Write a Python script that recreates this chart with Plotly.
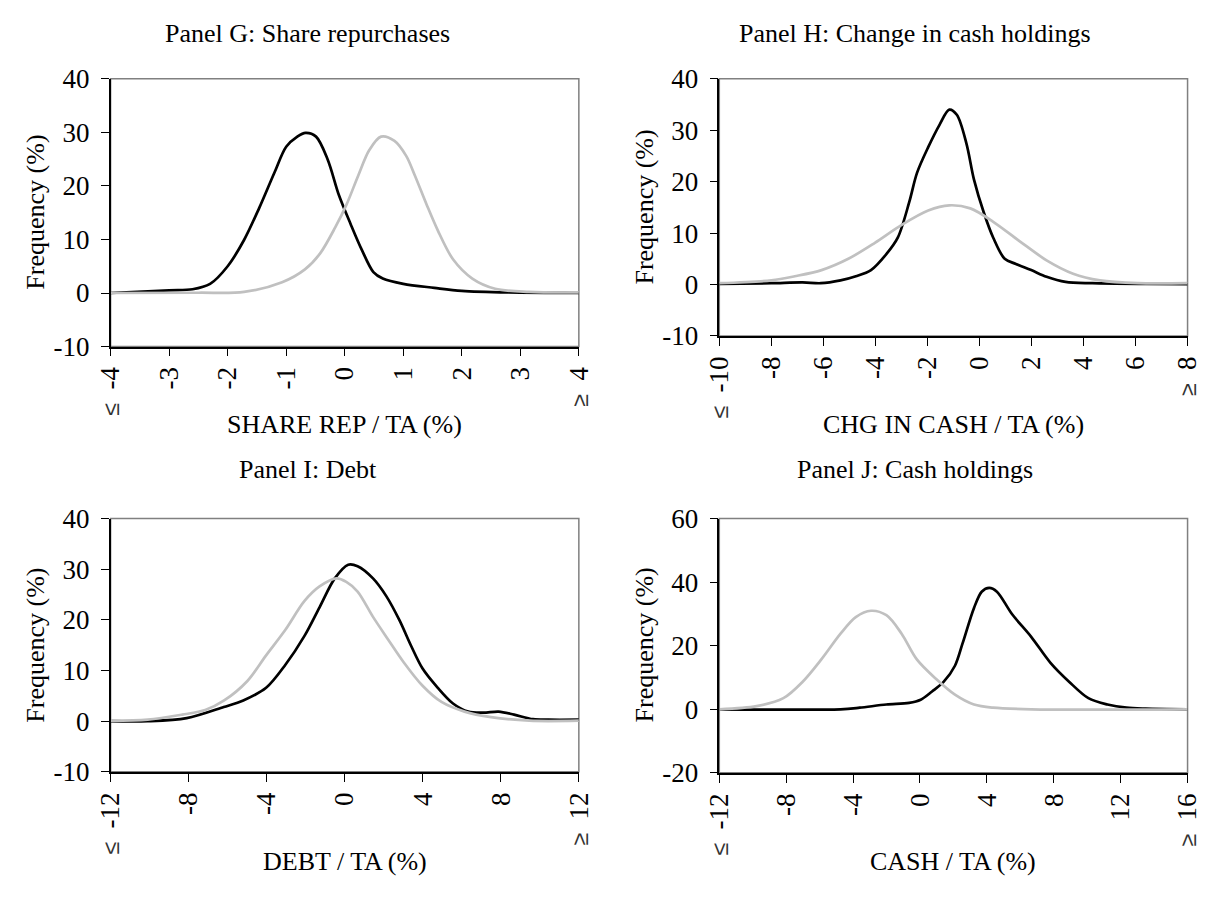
import plotly.graph_objects as go

FONT = "Liberation Serif"
BLACK = "#000000"
GRAY = "#c0c0c0"
BORDER = "#808080"
W, H = 1225, 899

# ---------------- data ----------------
# Panel G: Share repurchases
g_black_x = [-4, -3.0, -2.6, -2.3, -2.0, -1.72, -1.46, -1.2, -1.0, -0.81, -0.67, -0.49, -0.29, -0.1, 0.1, 0.29, 0.49, 0.65, 1.0, 1.53, 2.0, 2.8, 4]
g_black_y = [0, 0.5, 0.7, 1.7, 5.0, 9.9, 15.9, 22.5, 27.3, 29.2, 29.9, 29.2, 24.9, 18.3, 12.9, 8.1, 3.9, 2.7, 1.7, 0.96, 0.4, 0.1, 0]
g_gray_x = [-4, -2.5, -1.72, -1.07, -0.68, -0.42, -0.16, 0.03, 0.23, 0.42, 0.62, 0.85, 1.05, 1.2, 1.4, 1.59, 1.85, 2.18, 2.57, 3.15, 4]
g_gray_y = [0, 0.05, 0.2, 2.0, 4.4, 7.4, 12.3, 16.5, 21.9, 26.7, 29.2, 28.4, 25.6, 21.9, 16.5, 11.7, 6.3, 2.7, 0.8, 0.2, 0.1]

# Panel H: Change in cash holdings
h_black_x = [-10, -8.0, -6.8, -6.1, -5.34, -4.75, -4.17, -3.58, -3.14, -2.7, -2.4, -1.97, -1.53, -1.16, -0.87, -0.5, -0.21, 0.16, 0.53, 0.97, 1.4, 1.99, 2.58, 3.31, 4.34, 6.4, 8]
h_black_y = [0.1, 0.25, 0.4, 0.25, 0.8, 1.6, 2.8, 5.9, 9.1, 16.0, 21.7, 26.7, 31.1, 34.0, 33.0, 27.4, 20.4, 14.1, 9.1, 5.0, 4.0, 2.8, 1.5, 0.5, 0.25, 0.1, 0.05]
h_gray_x = [-10, -8.0, -7.1, -6.07, -5.04, -4.02, -2.99, -1.97, -1.16, -0.35, 0.53, 1.55, 2.58, 3.6, 4.63, 6.09, 8]
h_gray_y = [0.25, 0.8, 1.6, 2.8, 5.0, 8.1, 11.6, 14.4, 15.4, 14.8, 12.2, 8.4, 4.7, 2.1, 0.8, 0.25, 0.25]

# Panel I: Debt
i_black_x = [-12, -10.1, -8.1, -6.2, -5.2, -4.03, -3.05, -2.07, -1.29, -0.51, 0.18, 0.66, 1.45, 2.13, 2.81, 3.4, 3.99, 4.77, 5.55, 6.33, 7.11, 7.89, 8.68, 9.65, 10.44, 12]
i_black_y = [0, 0, 0.6, 2.8, 4.1, 6.6, 11.1, 16.8, 22.5, 28.2, 30.9, 30.6, 28.2, 24.7, 19.9, 14.9, 10.4, 6.6, 3.5, 1.9, 1.7, 1.9, 1.3, 0.4, 0.3, 0.3]
i_gray_x = [-12, -10.1, -8.33, -7.15, -6.18, -5.0, -4.03, -3.05, -2.07, -1.29, -0.41, 0.08, 0.66, 1.45, 2.23, 3.01, 3.99, 4.96, 6.14, 7.5, 9.46, 12]
i_gray_y = [0.1, 0.3, 1.3, 2.2, 4.1, 7.9, 13.0, 18.0, 23.7, 26.6, 28.2, 27.5, 25.6, 20.6, 16.1, 11.7, 7.0, 3.8, 1.9, 0.8, 0.1, 0.1]

# Panel J: Cash holdings
j_black_x = [-12, -4.75, -3.61, -2.01, -0.65, 0.04, 0.72, 1.41, 2.09, 2.55, 3.23, 3.69, 4.14, 4.6, 5.51, 6.65, 7.79, 8.93, 10.07, 11.21, 12.35, 13.49, 16]
j_black_y = [0, 0, 0.5, 1.5, 2.0, 3.0, 5.6, 8.6, 13.7, 20.8, 31.9, 37.0, 38.2, 37.0, 29.9, 22.8, 14.7, 8.6, 3.5, 1.5, 0.5, 0.2, 0]
j_gray_x = [-12, -9.77, -8.17, -7.03, -5.9, -4.75, -3.84, -2.93, -2.01, -1.1, -0.19, 0.95, 2.09, 3.23, 4.37, 6.65, 16]
j_gray_y = [0, 1.0, 3.5, 8.6, 15.7, 23.8, 29.0, 31.0, 29.6, 23.8, 15.7, 9.6, 4.6, 1.5, 0.5, 0, 0]

# tick values
g_xticks = [-4, -3, -2, -1, 0, 1, 2, 3, 4]
h_xticks = [-10, -8, -6, -4, -2, 0, 2, 4, 6, 8]
i_xticks = [-12, -8, -4, 0, 4, 8, 12]
j_xticks = [-12, -8, -4, 0, 4, 8, 12, 16]
ghi_yticks = [-10, 0, 10, 20, 30, 40]
j_yticks = [-20, 0, 20, 40, 60]

panel_titles = ["Panel G: Share repurchases", "Panel H: Change in cash holdings",
                "Panel I: Debt", "Panel J: Cash holdings"]
x_titles = ["SHARE REP / TA (%)", "CHG IN CASH / TA (%)", "DEBT / TA (%)", "CASH / TA (%)"]
y_title = "Frequency (%)"

TICK_SIZE = 27
TITLE_SIZE = 26

# ---------------- layout helpers ----------------
SYM = "<span style='font-family:Liberation Sans;font-size:23px;fill:#333333'>{}</span>"


def x_labels(vals):
    out = []
    for k, v in enumerate(vals):
        if k == 0:
            out.append(SYM.format("≤") + "\u00a0 " + str(v))
        elif k == len(vals) - 1:
            out.append(SYM.format("≥") + "\u00a0 " + str(v))
        else:
            out.append(str(v))
    return out


def dom_x(a, b):
    return [a / W, b / W]


def dom_y(top, bottom):
    return [1 - bottom / H, 1 - top / H]


panels = [
    dict(series=[(g_black_x, g_black_y), (g_gray_x, g_gray_y)], xt=g_xticks, yt=ghi_yticks,
         px=(98, 578), py=(66, 343), title=(300, 19), xtitle=(338, 424), ytitle=(21, 204)),
    dict(series=[(h_black_x, h_black_y), (h_gray_x, h_gray_y)], xt=h_xticks, yt=ghi_yticks,
         px=(722, 1202), py=(66, 332), title=(923, 19), xtitle=(962, 424), ytitle=(645, 199)),
    dict(series=[(i_black_x, i_black_y), (i_gray_x, i_gray_y)], xt=i_xticks, yt=ghi_yticks,
         px=(98, 578), py=(521, 783), title=(300, 470), xtitle=(338, 876), ytitle=(21, 652)),
    dict(series=[(j_black_x, j_black_y), (j_gray_x, j_gray_y)], xt=j_xticks, yt=j_yticks,
         px=(722, 1202), py=(521, 784), title=(923, 470), xtitle=(962, 876), ytitle=(645, 652)),
]

fig = go.Figure()
annotations = []
shapes = []
layout = {}

for n, p in enumerate(panels):
    idx = "" if n == 0 else str(n + 1)
    xa, ya = "x" + idx, "y" + idx
    for (sx, sy), col in zip(p["series"], [BLACK, GRAY]):
        fig.add_trace(go.Scatter(
            x=sx, y=sy, xaxis=xa, yaxis=ya, mode="lines",
            line=dict(color=col, width=2.7, shape="spline", smoothing=0.9),
            showlegend=False, hoverinfo="skip"))

    layout["xaxis" + idx] = dict(
        domain=dom_x(*p["px"]), anchor=ya, range=[p["xt"][0], p["xt"][-1]],
        tickmode="array", tickvals=p["xt"], ticktext=x_labels(p["xt"]),
        tickangle=-90, ticks="outside", ticklen=8, tickwidth=1.3, tickcolor=BLACK,
        showline=True, linecolor=BLACK, linewidth=1.5, showgrid=False, zeroline=False,
        tickfont=dict(family=FONT, size=TICK_SIZE, color=BLACK), fixedrange=True)
    layout["yaxis" + idx] = dict(
        domain=dom_y(*p["py"]), anchor=xa, range=[p["yt"][0], p["yt"][-1]],
        tickmode="array", tickvals=p["yt"], ticktext=[str(v) for v in p["yt"]],
        ticks="outside", ticklen=8, tickwidth=1.3, tickcolor=BLACK, ticklabelstandoff=6,
        showline=True, linecolor=BLACK, linewidth=1.5, showgrid=False, zeroline=False,
        tickfont=dict(family=FONT, size=TICK_SIZE, color=BLACK), fixedrange=True)

    # plot-area frame
    shapes.append(dict(type="rect", xref=xa + " domain", yref=ya + " domain",
                       x0=0, x1=1, y0=0, y1=1, line=dict(color=BORDER, width=1.5),
                       layer="below"))

    tx, ty = p["title"]
    annotations.append(dict(text=panel_titles[n], x=tx / W, y=1 - ty / H, xref="paper", yref="paper",
                            showarrow=False, xanchor="center", yanchor="middle",
                            font=dict(family=FONT, size=TITLE_SIZE, color=BLACK)))
    tx, ty = p["xtitle"]
    annotations.append(dict(text=x_titles[n], x=tx / W, y=1 - ty / H, xref="paper", yref="paper",
                            showarrow=False, xanchor="center", yanchor="middle",
                            font=dict(family=FONT, size=TITLE_SIZE, color=BLACK)))
    tx, ty = p["ytitle"]
    annotations.append(dict(text=y_title, x=tx / W, y=1 - ty / H, xref="paper", yref="paper",
                            showarrow=False, xanchor="center", yanchor="middle", textangle=-90,
                            font=dict(family=FONT, size=TITLE_SIZE, color=BLACK)))

fig.update_layout(
    width=W, height=H, margin=dict(l=0, r=0, t=0, b=0),
    paper_bgcolor="white", plot_bgcolor="white",
    annotations=annotations, shapes=shapes, **layout)

fig.write_html("out.html", config={"displayModeBar": False})
